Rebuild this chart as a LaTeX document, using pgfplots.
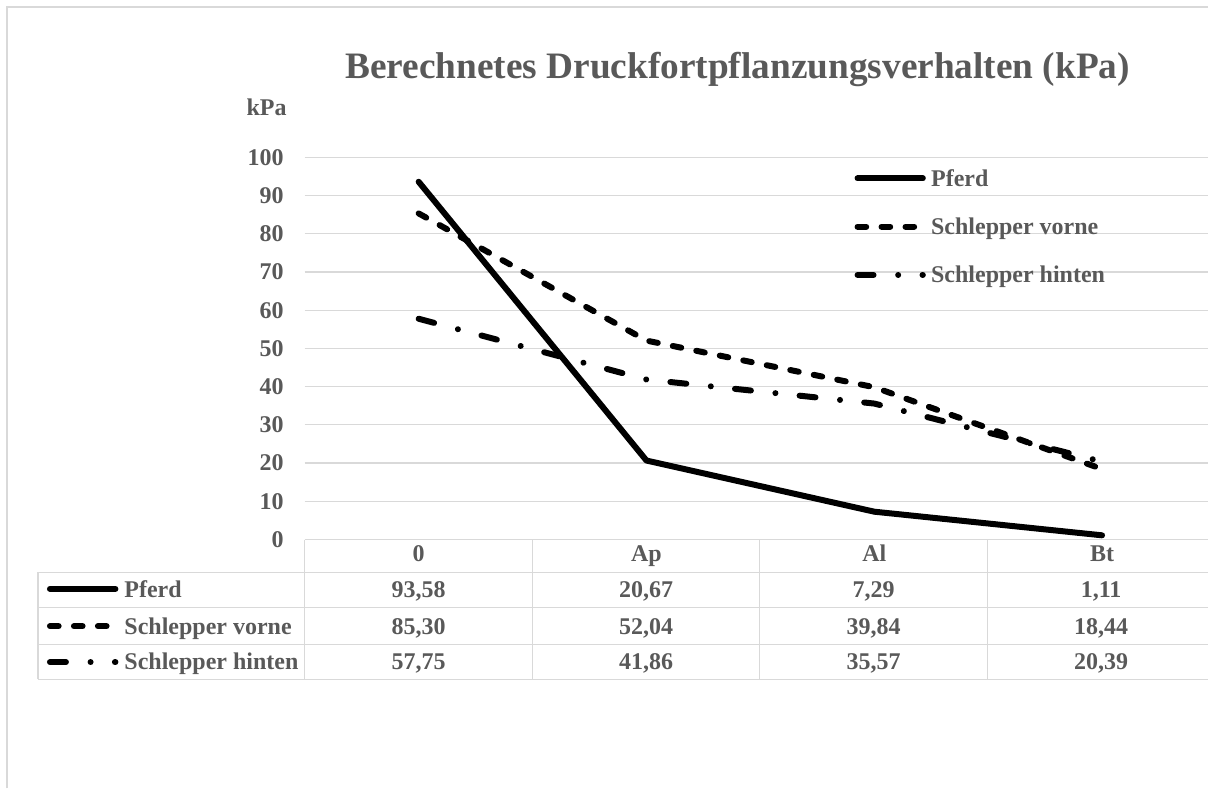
\documentclass[border=0pt]{standalone}
\usepackage{pgfplots}
\pgfplotsset{compat=1.18}
\usepackage{fontspec}
\setmainfont{Liberation Serif}
\definecolor{txt}{HTML}{595959}
\definecolor{gridgray}{HTML}{D9D9D9}
\tikzset{
  pferd/.style={black, line width=4.5pt, line cap=round, line join=round, solid},
  vorne/.style={black, line width=4.5pt, line cap=round, line join=round, dash pattern=on 6.5pt off 11.5pt},
  hinten/.style={black, line width=4.5pt, line cap=round, line join=round, dash pattern=on 12pt off 18.5pt on 0.01pt off 18.25pt},
}
\newcommand{\sfont}{\fontsize{18}{21.6}\selectfont\bfseries}
\begin{document}
\begin{tikzpicture}
\begin{axis}[
  at={(0,0)}, anchor=south west,
  scale only axis, width=678pt, height=287pt,
  xmin=-0.5, xmax=3.465, ymin=0, ymax=100,
  axis line style={draw=none},
  ytick={0,10,...,100},
  xtick={0,1,2,3}, xticklabels={0,Ap,Al,Bt},
  major tick length=0pt,
  ymajorgrids, grid style={gridgray, line width=0.9pt},
  tick label style={font=\sfont, text=txt},
  /pgf/number format/assume math mode=true,
  yticklabel style={anchor=east, inner sep=0pt, xshift=-15.75pt},
  xticklabel style={anchor=base, inner sep=0pt, yshift=-16.7pt},
  clip=false,
  legend cell align=left,
  legend style={draw=none, fill=none, inner sep=0pt, at={(0.6084,0.9661)}, anchor=north west, row sep=24.2pt,
    nodes={inner sep=0pt, text height=12pt, text depth=0pt, font=\sfont, text=txt},
    /tikz/every odd column/.append style={column sep=4pt}},
  legend image code/.code={\draw[#1] (0pt,0pt) -- (49pt,0pt);},
]
\addplot[pferd] coordinates {(0,93.58) (1,20.67) (2,7.29) (3,1.11)};
\addlegendentry{Pferd}
\addplot[vorne] coordinates {(0,85.30) (1,52.04) (2,39.84) (3,18.44)};
\addlegendentry{Schlepper vorne}
\addplot[hinten] coordinates {(0,57.75) (1,41.86) (2,35.57) (3,20.39)};
\addlegendentry{Schlepper hinten}
\end{axis}
\begin{scope}[shift={(-228.75pt,405pt)}, x=0.75pt, y=-0.75pt]
  \path (0,0) rectangle (1209,789);
  \draw[gridgray, line width=1.5pt] (7,789) -- (7,7) -- (1209,7);
  \node[anchor=base, font=\fontsize{28}{33}\selectfont\bfseries, text=txt, inner sep=0pt] at (738.3,79) {Berechnetes Druckfortpflanzungsverhalten (kPa)};
  \node[anchor=base east, font=\sfont, text=txt, inner sep=0pt] at (287,116) {kPa};
  % table grid
  \draw[gridgray, line width=0.9pt] (38,572.7) -- (1209,572.7) (38,608.3) -- (1209,608.3) (38,645) -- (1209,645) (38,680) -- (1209,680);
  \draw[gridgray, line width=0.9pt] (38,572.7) -- (38,680);
  \foreach \x in {305,532.7,760.4,988.1} \draw[gridgray, line width=0.9pt] (\x,540) -- (\x,680);
  % legend keys in table
  \draw[pferd] (50,589.3) -- (115.5,589.3);
  \draw[vorne] (50,626.7) -- (115.5,626.7);
  \draw[hinten] (50,662.7) -- (115.5,662.7);
  \begin{scope}[every node/.style={font=\sfont, text=txt, inner sep=0pt}]
    \node[anchor=base west] at (124.3,598) {Pferd};
    \node[anchor=base west] at (124.3,635) {Schlepper vorne};
    \node[anchor=base west] at (124.3,670.5) {Schlepper hinten};
    \node[anchor=base] at (419,598) {93,58};
    \node[anchor=base] at (646.6,598) {20,67};
    \node[anchor=base] at (874.3,598) {7,29};
    \node[anchor=base] at (1102,598) {1,11};
    \node[anchor=base] at (419,635) {85,30};
    \node[anchor=base] at (646.6,635) {52,04};
    \node[anchor=base] at (874.3,635) {39,84};
    \node[anchor=base] at (1102,635) {18,44};
    \node[anchor=base] at (419,670.5) {57,75};
    \node[anchor=base] at (646.6,670.5) {41,86};
    \node[anchor=base] at (874.3,670.5) {35,57};
    \node[anchor=base] at (1102,670.5) {20,39};
  \end{scope}
\end{scope}
\end{tikzpicture}
\end{document}
